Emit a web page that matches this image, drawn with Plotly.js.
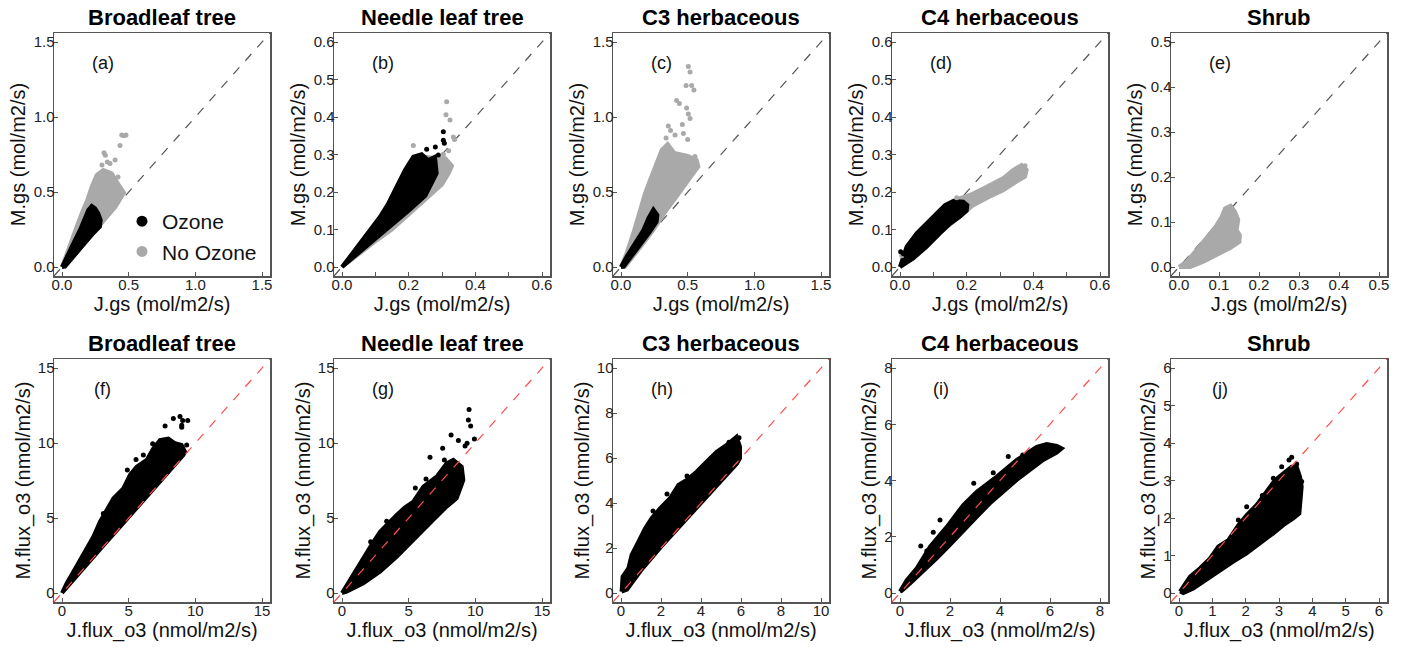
<!DOCTYPE html>
<html>
<head>
<meta charset="utf-8">
<script src="https://cdn.plot.ly/plotly-3.0.1.min.js"></script>
<style>html,body{margin:0;padding:0;background:#fff;}#chart{width:1406px;height:647px;}</style>
</head>
<body>
<div id="chart"></div>
<script>
// ---------- Data (outlines of dense point clouds + visible outlying points) ----------
// Titles / labels
const panelTitles = ['Broadleaf tree','Needle leaf tree','C3 herbaceous','C4 herbaceous','Shrub'];
const panelLetters = ['(a)','(b)','(c)','(d)','(e)','(f)','(g)','(h)','(i)','(j)'];
const topXLabel = 'J.gs (mol/m2/s)', topYLabel = 'M.gs (mol/m2/s)';
const botXLabel = 'J.flux_o3 (nmol/m2/s)', botYLabel = 'M.flux_o3 (nmol/m2/s)';
const seriesNames = ['Ozone','No Ozone'];
// axis maxima and tick steps
const axisMax  = [1.5, 0.6, 1.5, 0.6, 0.5, 15, 15, 10, 8, 6];
const xTickStep = [0.5, 0.2, 0.5, 0.2, 0.1, 5, 5, 2, 2, 1];
const yTickStep = [0.5, 0.1, 0.5, 0.1, 0.1, 5, 5, 2, 2, 1];
const xMinorStep = [null, 0.1, null, 0.1, null, null, null, null, null, null];

// (a) Broadleaf tree, stomatal conductance
const a_noO3_x = [0,0.035,0.073,0.11,0.148,0.19,0.223,0.26,0.31,0.373,0.41,0.465,0.40,0.30,0.20,0.10,0.03];
const a_noO3_y = [0,0.091,0.18,0.269,0.358,0.447,0.535,0.613,0.647,0.625,0.569,0.495,0.40,0.29,0.19,0.09,0.025];
const a_noO3_px = [0.315,0.325,0.36,0.398,0.435,0.448,0.465,0.48,0.42,0.34,0.30];
const a_noO3_py = [0.762,0.745,0.69,0.713,0.81,0.88,0.875,0.88,0.60,0.70,0.68];
const a_O3_x = [0,0.035,0.085,0.135,0.173,0.197,0.223,0.248,0.272,0.29,0.285,0.235,0.16,0.085,0.0225];
const a_O3_y = [0,0.069,0.158,0.247,0.325,0.38,0.407,0.39,0.358,0.313,0.269,0.225,0.147,0.069,0.002];

// (b) Needle leaf tree
const b_noO3_x = [0,0.05,0.1,0.139,0.164,0.189,0.214,0.24,0.28,0.31,0.33,0.32,0.3,0.25,0.2,0.15,0.1,0.05];
const b_noO3_y = [0,0.055,0.11,0.16,0.2,0.245,0.28,0.295,0.29,0.29,0.27,0.25,0.22,0.18,0.14,0.10,0.068,0.033];
const b_noO3_px = [0.314,0.312,0.324,0.334,0.338,0.214,0.304,0.299,0.32];
const b_noO3_py = [0.441,0.406,0.392,0.347,0.34,0.324,0.301,0.268,0.31];
const b_O3_x = [0,0.024,0.054,0.084,0.114,0.139,0.164,0.189,0.214,0.239,0.259,0.279,0.284,0.25,0.2,0.15,0.1,0.05,0.01];
const b_O3_y = [0,0.028,0.063,0.098,0.134,0.17,0.214,0.259,0.294,0.301,0.285,0.294,0.25,0.19,0.15,0.112,0.075,0.037,0.006];
const b_O3_px = [0.304,0.304,0.307,0.289,0.254,0.28];
const b_O3_py = [0.361,0.338,0.33,0.299,0.314,0.32];

// (c) C3 herbaceous
const c_noO3_x = [0,0.042,0.092,0.143,0.18,0.218,0.267,0.305,0.35,0.40,0.45,0.50,0.567,0.58,0.543,0.492,0.417,0.342,0.293,0.243,0.168,0.093,0.03];
const c_noO3_y = [0,0.092,0.225,0.38,0.49,0.58,0.70,0.78,0.82,0.76,0.75,0.74,0.713,0.669,0.624,0.558,0.469,0.38,0.313,0.247,0.158,0.068,0.002];
const c_noO3_px = [0.505,0.518,0.488,0.53,0.547,0.417,0.438,0.492,0.505,0.518,0.355,0.372,0.405,0.468,0.338,0.555,0.50,0.46];
const c_noO3_py = [1.336,1.30,1.21,1.21,1.18,1.11,1.09,1.06,1.02,0.99,0.94,0.91,0.88,0.89,0.86,0.736,0.85,0.95];
const c_O3_x = [0,0.042,0.105,0.168,0.205,0.243,0.273,0.267,0.218,0.155,0.08,0.02];
const c_O3_y = [0,0.069,0.158,0.247,0.324,0.384,0.347,0.302,0.236,0.158,0.069,0.002];

// (d) C4 herbaceous
const d_noO3_x = [0,0.02,0.05,0.08,0.11,0.135,0.165,0.21,0.26,0.31,0.34,0.365,0.38,0.375,0.35,0.31,0.27,0.22,0.19,0.16,0.12,0.06,0.01];
const d_noO3_y = [0,0.054,0.09,0.117,0.143,0.165,0.179,0.192,0.214,0.237,0.259,0.272,0.259,0.241,0.228,0.205,0.188,0.165,0.143,0.121,0.09,0.045,0.01];
const d_noO3_px = [0.005,0.17,0.375];
const d_noO3_py = [0.03,0.185,0.27];
const d_O3_x = [0,0.02,0.05,0.08,0.11,0.135,0.16,0.19,0.202,0.2,0.18,0.15,0.12,0.08,0.04,0.005];
const d_O3_y = [0,0.054,0.09,0.117,0.143,0.165,0.176,0.174,0.165,0.15,0.134,0.115,0.09,0.054,0.023,0.001];
const d_O3_px = [0.002,0.01];
const d_O3_py = [0.041,0.035];

// (e) Shrub
const e_noO3_x = [0,0.019,0.044,0.069,0.094,0.107,0.115,0.129,0.14,0.148,0.144,0.152,0.151,0.128,0.094,0.061,0.028];
const e_noO3_y = [0,0.012,0.038,0.067,0.093,0.112,0.13,0.136,0.123,0.105,0.082,0.071,0.056,0.042,0.027,0.012,0.0];

// (f) Broadleaf tree, ozone flux
const f_O3_x = [0,0.35,0.85,1.35,1.85,2.35,2.85,3.35,3.85,4.6,5.1,5.6,6.35,6.85,7.35,7.98,8.48,8.97,9.23,9.1,7.5,6.0,4.5,3.0,1.5,0.5,0.1];
const f_O3_y = [0,0.65,1.42,2.2,2.97,3.75,4.75,5.53,6.31,6.98,7.87,8.42,8.87,9.64,10.2,10.3,9.98,9.87,9.42,9.2,7.55,6.05,4.55,3.05,1.55,0.5,0.05];
const f_O3_px = [7.73,8.35,8.85,9.05,9.43,8.98,8.98,9.35,6.8,6.1,5.55,4.9,3.1];
const f_O3_py = [11.13,11.64,11.76,11.5,11.5,11.19,11.05,9.87,9.95,9.2,8.9,8.2,5.3];

// (g) Needle leaf tree
const g_O3_x = [0,0.5,1.0,1.6,2.2,2.85,3.5,4.1,4.7,5.35,6.1,7.1,7.85,8.35,8.98,9.1,8.6,7.85,6.85,5.85,4.98,4.1,2.85,1.6,0.35];
const g_O3_y = [0,0.75,1.45,2.3,3.2,4.09,4.7,5.2,5.7,6.09,7.09,7.76,8.64,8.87,8.42,7.53,6.31,5.76,4.87,3.98,3.2,2.42,1.42,0.65,0.09];
const g_O3_px = [9.53,9.48,9.65,8.18,8.73,7.55,6.6,7.68,8.35,9.23,9.38,9.93,2.15,3.35,5.5,6.3];
const g_O3_py = [12.24,11.53,11.13,10.53,10.16,9.65,9.05,8.87,8.31,9.8,9.98,10.27,3.42,4.79,7.0,7.6];

// (h) C3 herbaceous
const h_O3_x = [0.03,0.08,0.37,0.53,0.87,1.2,1.53,1.95,2.45,2.87,3.28,3.78,4.28,4.78,5.28,5.78,5.95,5.95,5.8,4.5,3.0,2.0,1.0,0.3];
const h_O3_y = [0.06,0.73,1.1,1.69,2.28,2.87,3.32,3.76,4.21,4.8,5.02,5.39,5.84,6.28,6.58,6.95,6.5,5.99,5.75,4.5,3.05,2.05,1.0,0.15];
const h_O3_px = [1.6,2.3,3.3,5.4,5.9];
const h_O3_py = [3.65,4.4,5.2,6.7,6.9];

// (i) C4 herbaceous
const i_O3_x = [0,0.27,0.67,1.2,1.87,2.53,3.07,3.87,4.67,5.2,5.47,5.87,6.27,6.47,6.27,5.73,5.2,4.67,4.13,3.6,3.07,2.53,2.0,1.47,0.93,0.4,0.07];
const i_O3_y = [0.05,0.46,0.88,1.65,2.35,3.13,3.6,4.14,4.73,5.06,5.2,5.3,5.23,5.14,4.99,4.73,4.37,4.02,3.6,3.19,2.71,2.18,1.71,1.23,0.76,0.34,0.08];
const i_O3_px = [4.33,4.91,3.73,2.6,1.6,1.33,0.83,1.07,2.95];
const i_O3_py = [4.85,4.91,4.28,2.89,2.6,2.16,1.67,1.49,3.9];

// (j) Shrub
const j_O3_x = [0.03,0.33,0.63,0.93,1.18,1.48,1.78,2.03,2.33,2.63,2.88,3.13,3.38,3.53,3.63,3.68,3.63,3.61,3.43,3.13,2.83,2.43,2.03,1.63,1.23,0.83,0.43,0.13];
const j_O3_y = [0.04,0.44,0.66,0.92,1.24,1.41,1.81,2.08,2.35,2.7,3.01,3.19,3.37,3.37,3.1,2.84,2.48,2.12,1.99,1.81,1.59,1.32,1.06,0.84,0.61,0.35,0.12,0.0];
const j_O3_px = [3.38,3.53,3.08,2.83,3.68,2.03,1.78,3.3,2.5];
const j_O3_py = [3.62,3.44,3.37,3.06,2.97,2.3,1.95,3.55,2.6];

// ---------- Styling ----------
const BLACK = '#000000', GRAY = '#a9a9a9';
const FONT = 'Liberation Sans, Arial, Helvetica, sans-serif';
const W = 1406, H = 647;
const colLeft = [54, 334, 613, 892, 1171], plotW = 216;
const rowTop = [33, 359], plotH = 243;

// per panel: clouds [x,y,color] and points [x,y,color]
const panels = [
  {clouds:[[a_noO3_x,a_noO3_y,GRAY],[a_O3_x,a_O3_y,BLACK]], pts:[[a_noO3_px,a_noO3_py,GRAY]]},
  {clouds:[[b_noO3_x,b_noO3_y,GRAY],[b_O3_x,b_O3_y,BLACK]], pts:[[b_noO3_px,b_noO3_py,GRAY],[b_O3_px,b_O3_py,BLACK]]},
  {clouds:[[c_noO3_x,c_noO3_y,GRAY],[c_O3_x,c_O3_y,BLACK]], pts:[[c_noO3_px,c_noO3_py,GRAY]]},
  {clouds:[[d_noO3_x,d_noO3_y,GRAY],[d_O3_x,d_O3_y,BLACK]], pts:[[d_noO3_px,d_noO3_py,GRAY],[d_O3_px,d_O3_py,BLACK]]},
  {clouds:[[e_noO3_x,e_noO3_y,GRAY]], pts:[]},
  {clouds:[[f_O3_x,f_O3_y,BLACK]], pts:[[f_O3_px,f_O3_py,BLACK]]},
  {clouds:[[g_O3_x,g_O3_y,BLACK]], pts:[[g_O3_px,g_O3_py,BLACK]]},
  {clouds:[[h_O3_x,h_O3_y,BLACK]], pts:[[h_O3_px,h_O3_py,BLACK]]},
  {clouds:[[i_O3_x,i_O3_y,BLACK]], pts:[[i_O3_px,i_O3_py,BLACK]]},
  {clouds:[[j_O3_x,j_O3_y,BLACK]], pts:[[j_O3_px,j_O3_py,BLACK]]}
];

const traces = [];
const layout = {
  width: W, height: H,
  margin: {l:0, r:0, t:0, b:0},
  paper_bgcolor: '#fff', plot_bgcolor: '#fff',
  font: {family: FONT, color: '#000'},
  showlegend: true,
  legend: {x: 122/W, y: 1 - 201/H, xanchor:'left', yanchor:'top',
           bgcolor:'rgba(0,0,0,0)', font:{family:FONT, size:21, color:'#111'},
           tracegroupgap:0, itemclick:false, itemdoubleclick:false},
  annotations: [], shapes: []
};

panels.forEach((p, k) => {
  const n = k + 1;
  const xa = 'x' + (n === 1 ? '' : n), ya = 'y' + (n === 1 ? '' : n);
  const row = k < 5 ? 0 : 1, col = k % 5;
  const M = axisMax[k];
  const lo = -0.04 * M, hi = 1.04 * M;
  const x0 = colLeft[col] / W, x1 = (colLeft[col] + plotW) / W;
  const y1 = 1 - rowTop[row] / H, y0 = 1 - (rowTop[row] + plotH) / H;
  const fmt = row === 0 ? '.1f' : 'd';
  const base = {
    range: [lo, hi], autorange: false, showgrid: false, zeroline: false,
    showline: true, mirror: true, linecolor: '#555', linewidth: 1.5,
    ticks: 'inside', ticklen: 4, tickwidth: 1, tickcolor: '#555',
    tickfont: {family: FONT, size: 15, color: '#222'},
    tick0: 0, tickformat: fmt, fixedrange: true
  };
  const xax = Object.assign({}, base, {
    domain: [x0, x1], anchor: ya, dtick: xTickStep[k], ticklabelstandoff: -6,
    title: {text: row === 0 ? topXLabel : botXLabel, font: {family: FONT, size: 20, color:'#111'}, standoff: 4}
  });
  if (xMinorStep[k]) xax.minor = {dtick: xMinorStep[k], tick0: 0, ticks: 'inside', ticklen: 4, tickcolor: '#555', showgrid: false};
  const yax = Object.assign({}, base, {
    domain: [y0, y1], anchor: xa, dtick: yTickStep[k], ticklabelstandoff: -5,
    title: {text: row === 0 ? topYLabel : botYLabel, font: {family: FONT, size: 20, color:'#111'}, standoff: 2}
  });
  layout['xaxis' + (n === 1 ? '' : n)] = xax;
  layout['yaxis' + (n === 1 ? '' : n)] = yax;

  p.clouds.forEach(([cx, cy, color]) => {
    traces.push({type:'scatter', mode:'lines', x: cx.concat([cx[0]]), y: cy.concat([cy[0]]),
      xaxis: xa, yaxis: ya, fill:'toself', fillcolor: color,
      line:{color: color, width: 4, shape:'linear'}, hoverinfo:'skip', showlegend:false});
  });
  p.pts.forEach(([px, py, color]) => {
    traces.push({type:'scatter', mode:'markers', x: px, y: py, xaxis: xa, yaxis: ya,
      marker:{color: color, size: 5}, hoverinfo:'skip', showlegend:false});
  });

  // 1:1 line (grey below the points in the top row, red above them in the bottom row)
  layout.shapes.push({type:'line', xref: xa, yref: ya, x0: lo, y0: lo, x1: hi, y1: hi,
    line:{color: row === 0 ? '#555555' : '#ff4d4d', width: 1.2, dash:'dash'},
    layer: row === 0 ? 'below' : 'above'});
  // panel title
  layout.annotations.push({xref: xa + ' domain', yref: ya + ' domain', x: 0.5, y: 1,
    xanchor:'center', yanchor:'bottom', showarrow:false, yshift: 1,
    text: '<b>' + panelTitles[col] + '</b>', font:{family: FONT, size: 22, color:'#000'}});
  // panel letter
  layout.annotations.push({xref: xa + ' domain', yref: ya + ' domain', x: 0.225, y: 0.875,
    xanchor:'center', yanchor:'middle', showarrow:false,
    text: panelLetters[k], font:{family: FONT, size: 18, color:'#111'}});
});

// legend entries (panel a)
traces.push({type:'scatter', mode:'markers', x:[null], y:[null], xaxis:'x', yaxis:'y',
  name: seriesNames[0], marker:{color: BLACK, size: 11}, showlegend:true, hoverinfo:'skip'});
traces.push({type:'scatter', mode:'markers', x:[null], y:[null], xaxis:'x', yaxis:'y',
  name: seriesNames[1], marker:{color: GRAY, size: 11}, showlegend:true, hoverinfo:'skip'});

Plotly.newPlot('chart', traces, layout, {displayModeBar:false, staticPlot:true});
</script>
</body>
</html>
